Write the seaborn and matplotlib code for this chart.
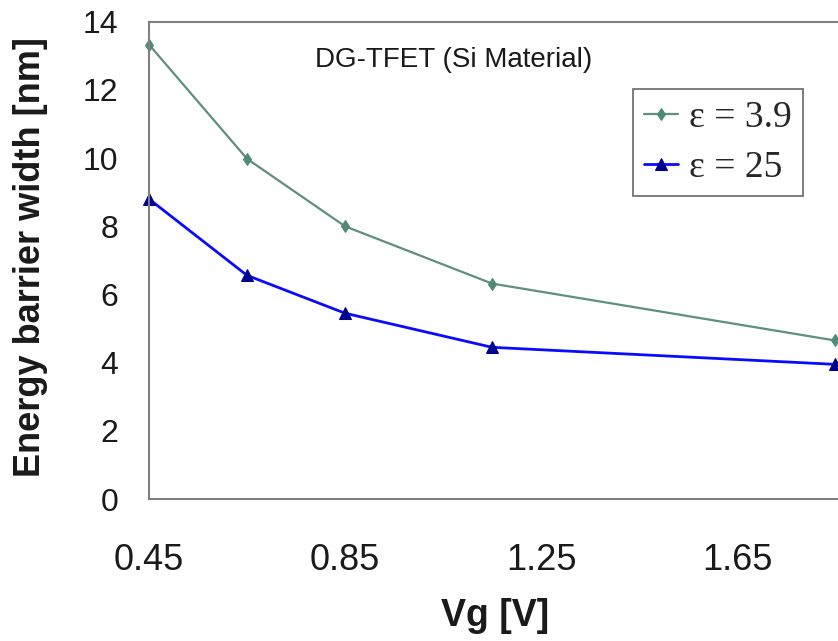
import matplotlib
matplotlib.use("Agg")
import matplotlib.pyplot as plt
import seaborn as sns
import pandas as pd

# Gate voltage sweep and extracted energy barrier widths
vg = [0.45, 0.65, 0.85, 1.15, 1.85]
width_eps_3_9 = [13.33, 9.98, 8.0, 6.32, 4.65]
width_eps_25 = [8.8, 6.56, 5.45, 4.45, 3.95]
series_labels = ["\u03b5 = 3.9", "\u03b5 = 25"]

x_ticks_major = [0.45, 0.85, 1.25, 1.65]
x_ticks_minor = [0.65, 1.05, 1.45, 1.85]
y_ticks = [0, 2, 4, 6, 8, 10, 12, 14]

df = pd.DataFrame({
    "Vg": vg * 2,
    "width": width_eps_3_9 + width_eps_25,
    "dielectric": [series_labels[0]] * len(vg) + [series_labels[1]] * len(vg),
})

sns.set_theme(style="white")
plt.rcParams["font.family"] = ["Liberation Sans", "DejaVu Sans"]

fig = plt.figure(figsize=(8.38, 6.41), dpi=100)
ax = fig.add_axes([0.1778, 0.2215, 0.8222, 0.7446])

sns.lineplot(
    data=df, x="Vg", y="width", hue="dielectric", style="dielectric",
    palette={series_labels[0]: "#5e8f80", series_labels[1]: "#0a0aff"},
    markers={series_labels[0]: "d", series_labels[1]: "^"},
    dashes=False, sort=False, ax=ax, legend=False,
)

lines = ax.get_lines()
lines[0].set_linewidth(1.6)
lines[0].set_markersize(6)
lines[0].set_markerfacecolor("#4f8a78")
lines[0].set_markeredgecolor("#4f8a78")
lines[1].set_linewidth(2.0)
lines[1].set_markersize(9)
lines[1].set_markerfacecolor("#000090")
lines[1].set_markeredgecolor("#000090")
for ln in lines:
    ln.set_clip_on(False)

ax.set_xlim(0.45, 1.856)
ax.set_ylim(0, 14)
ax.set_xticks(x_ticks_major)
ax.set_xticklabels([f"{v:.2f}" for v in x_ticks_major])
ax.set_xticks(x_ticks_minor, minor=True)
ax.set_yticks(y_ticks)
ax.set_yticklabels([str(v) for v in y_ticks])

ax.tick_params(axis="both", which="both", direction="out", color="#808080",
               width=1.2, labelcolor="#1a1a1a")
ax.tick_params(axis="x", which="both", length=8)
ax.tick_params(axis="x", which="major", labelsize=26, pad=24)
ax.tick_params(axis="y", which="major", length=6, pad=16, labelsize=23)

for side in ["left", "bottom", "top"]:
    ax.spines[side].set_visible(True)
    ax.spines[side].set_color("#808080")
    ax.spines[side].set_linewidth(1.5)
ax.spines["right"].set_visible(False)

ax.set_xlabel("Vg [V]", fontsize=27, fontweight="bold", color="#1a1a1a")
ax.xaxis.set_label_coords((495 - 149) / 689, (499 - 616) / 477.3)
ax.xaxis.label.set_va("center")
ax.set_ylabel("Energy barrier width [nm]", fontsize=26, fontweight="bold",
              color="#1a1a1a")
ax.yaxis.set_label_coords((31 - 149) / 689, (499 - 257) / 477.3)
ax.yaxis.label.set_va("center")

ax.text((454 - 149) / 689, (499 - 60) / 477.3, "DG-TFET (Si Material)",
        transform=ax.transAxes, ha="center", va="center", fontsize=20,
        color="#1a1a1a")

leg = ax.legend(lines, series_labels, loc="upper left",
                bbox_to_anchor=((633 - 149) / 689, (499 - 89) / 477.3),
                prop={"family": ["Liberation Serif"], "size": 27},
                frameon=True, fancybox=False, handlelength=0.9,
                handletextpad=0.3, borderpad=0.3, labelspacing=0.42,
                borderaxespad=0)
leg.get_frame().set_edgecolor("#404040")
leg.get_frame().set_linewidth(1.2)

fig.savefig("out.png", dpi=100)
